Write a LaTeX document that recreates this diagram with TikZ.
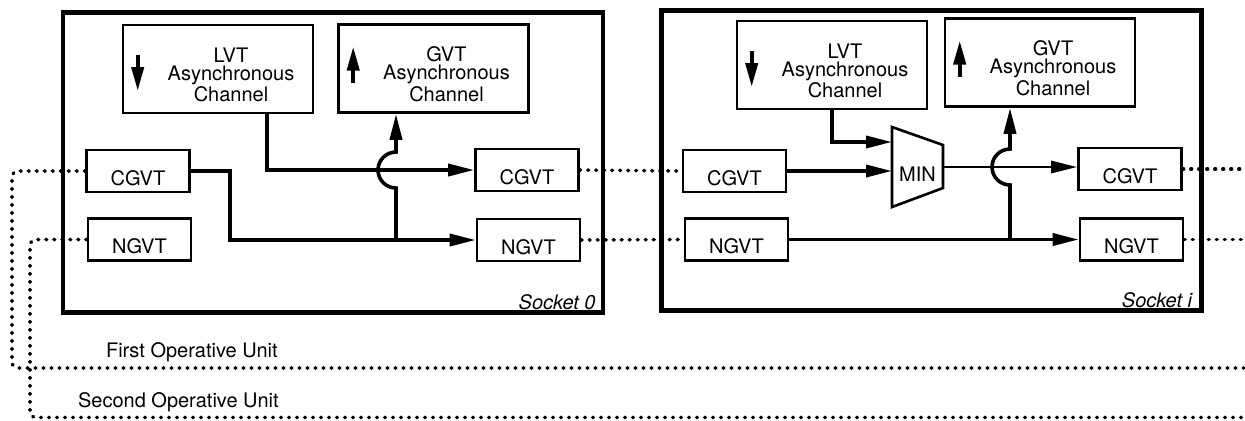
\documentclass[tikz,border=0pt]{standalone}
\usepackage{fontspec}
\setmainfont{TeX Gyre Heros}
\usetikzlibrary{arrows.meta}
\begin{document}
\begin{tikzpicture}[x=0.5pt,y=-0.5pt,
        font=\fontsize{10pt}{9pt}\selectfont,
        socket/.style={draw,line width=2.2pt,outer sep=0pt,minimum width=270pt,minimum height=150pt},
        chan/.style={draw,line width=1.3pt,minimum width=95pt,minimum height=44pt},
        chantext/.style={align=center,xshift=6.5pt,yshift=-2.8pt},
        port/.style={draw,line width=1.3pt,minimum width=51.5pt,minimum height=21pt},
        porttext/.style={yshift=-3.4pt},
        minbox/.style={inner sep=0pt,outer sep=0pt,minimum width=25.5pt,minimum height=40pt},
        tag/.style={anchor=base east,font=\fontsize{10pt}{9pt}\selectfont\itshape},
        conn/.style={line width=1.8pt,-{Triangle[length=13pt,width=6pt]}},
        glyph/.style={line width=2pt,-{Triangle[length=12pt,width=6pt]}},
        ring/.style={line width=1.8pt,line cap=round,dash pattern=on 0.4pt off 3.6pt}]
            \useasboundingbox (0,0) rectangle (1245,420);

            %Nodes
            \node[socket] (s0) at (333,162.5) {};
            \node[socket] (si) at (931.5,160.5) {};
            \node[tag] (s0lab) at ([xshift=-0.2pt,yshift=1.6pt]s0.south east) {Socket 0};
            \node[tag] (silab) at ([xshift=-1.2pt,yshift=1.6pt]si.south east) {Socket i};

            \node[chan,label={[chantext]center:{LVT\\Asynchronous\\Channel}}] (lvt0) at (218,69)   {};
            \node[chan,label={[chantext]center:{GVT\\Asynchronous\\Channel}}] (gvt0) at (433.5,68.5) {};
            \node[port,label={[porttext]center:CGVT}] (cgi0) at (138,171)   {};
            \node[port,label={[porttext]center:NGVT}] (ngi0) at (139.5,239.5) {};
            \node[port,label={[porttext]center:CGVT}] (cgo0) at (527,170)   {};
            \node[port,label={[porttext]center:NGVT}] (ngo0) at (528.5,240) {};

            \node[chan,label={[chantext]center:{LVT\\Asynchronous\\Channel}}] (lvti) at (832,65)   {};
            \node[chan,label={[chantext]center:{GVT\\Asynchronous\\Channel}}] (gvti) at (1040,62.5) {};
            \node[port,label={[porttext]center:CGVT}] (cgii) at (734.5,171)  {};
            \node[port,label={[porttext]center:NGVT}] (ngii) at (736.5,239.5) {};
            \node[port,label={[porttext]center:CGVT}] (cgoi) at (1130,169)   {};
            \node[port,label={[porttext]center:NGVT}] (ngoi) at (1131.5,239.5) {};
            \node[minbox,label={[yshift=-3.5pt]center:MIN}] (mn) at (917.5,167) {};

            \node[anchor=base west] (fou) at (99,357) {First Operative Unit};
            \node[anchor=base west] (sou) at (71,407) {Second Operative Unit};

            \coordinate (j0) at (396,240);
            \coordinate (b0) at (j0 |- cgo0.west);
            \coordinate (ji) at (1010,239.5);
            \coordinate (bi) at (ji |- mn.east);
            \coordinate (cgend) at (1245,169);
            \coordinate (ngend) at (1245,239.5);
            \coordinate (u1) at (12,368);
            \coordinate (u1end) at (1245,368);
            \coordinate (u2) at (30,417.5);
            \coordinate (u2end) at (1245,417.5);

            %Channel arrows
            \draw[glyph] ([xshift=8pt,yshift=7pt]lvt0.west)  -- ([xshift=8pt,yshift=-11pt]lvt0.west);
            \draw[glyph] ([xshift=8pt,yshift=-7pt]gvt0.west) -- ([xshift=8pt,yshift=11pt]gvt0.west);
            \draw[glyph] ([xshift=8pt,yshift=7pt]lvti.west)  -- ([xshift=8pt,yshift=-11pt]lvti.west);
            \draw[glyph] ([xshift=8pt,yshift=-7pt]gvti.west) -- ([xshift=8pt,yshift=11pt]gvti.west);

            %Lines
            \draw[conn] ([xshift=24.5pt]lvt0.south) |- (cgo0.west);
            \draw[conn] (cgi0.east) -- ++(39,0) |- (ngo0.west);
            \draw[conn] (j0) -- ([yshift=-9pt]b0) arc[start angle=270,end angle=90,radius=9pt] -- (j0 |- gvt0.south);

            \draw[line width=1.3pt] (mn.north west) -- ([yshift=-9pt]mn.north east)
                -- ([yshift=9.5pt]mn.south east) -- (mn.south west) -- cycle;
            \draw[conn] (lvti.south) |- ([yshift=12.5pt]mn.west);
            \draw[conn] (cgii.east)  -- (cgii.east -| mn.west);
            \draw[conn,line width=1.4pt] (mn.east) -- (mn.east -| cgoi.west);
            \draw[conn] (ngii.east)  -- (ngii.east -| ngoi.west);
            \draw[conn] (ji) -- ([yshift=-9pt]bi) arc[start angle=270,end angle=90,radius=9pt] -- (ji |- gvti.south);

            %Operative units
            \draw[ring,rounded corners=3pt] (cgi0.west) -| (u1) -- (u1end);
            \draw[ring,rounded corners=3pt] (ngi0.west) -| (u2) -- (u2end);
            \draw[ring] (cgo0.east) -- (cgii.west);
            \draw[ring] (ngo0.east) -- (ngii.west);
            \draw[ring] (cgoi.east) -- (cgend);
            \draw[ring] (ngoi.east) -- (ngend);
        \end{tikzpicture}
\end{document}
